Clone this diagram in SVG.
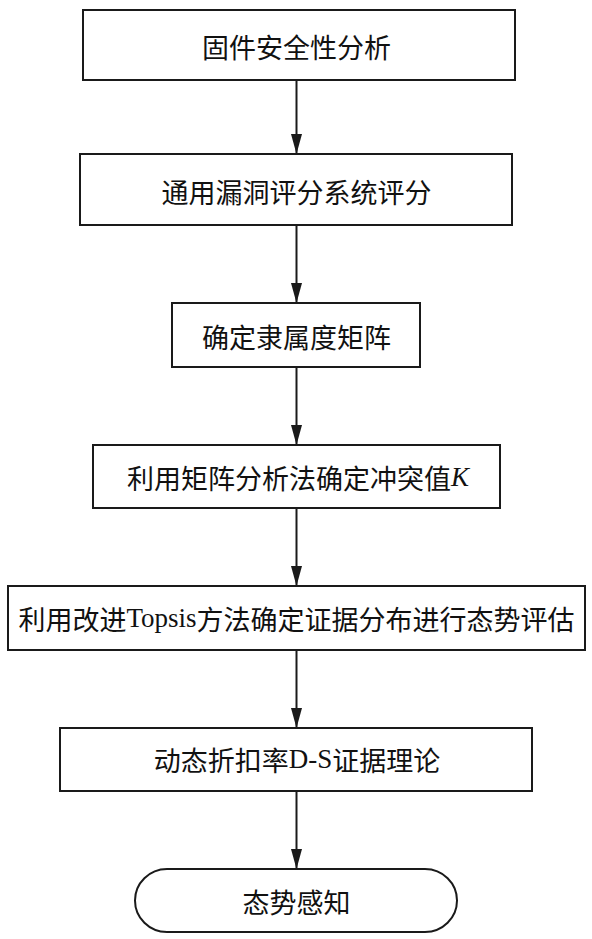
<svg xmlns="http://www.w3.org/2000/svg" width="592" height="939" viewBox="0 0 592 939">
<style>
.box{fill:#fff;stroke:#1a1a1a;stroke-width:2}
.lbl{font-family:"Liberation Serif","Noto Sans CJK SC",serif;font-size:27px;fill:#111;text-anchor:middle;dominant-baseline:central}
.cj{font-family:"Noto Sans CJK SC","Liberation Serif",sans-serif}
.edge{stroke:#1a1a1a;stroke-width:2;fill:none}
</style>
<defs>
<marker id="arr" markerUnits="userSpaceOnUse" markerWidth="20" markerHeight="11" refX="20" refY="5.5" viewBox="0 0 20 11" orient="auto">
<path d="M0,0 L20,5.5 L0,11 Z" fill="#1a1a1a"/>
</marker>
</defs>
<rect width="592" height="939" fill="#fff"/>
<g id="connectors">
<line class="edge" x1="296.5" y1="80" x2="296.5" y2="154" marker-end="url(#arr)"/>
<line class="edge" x1="296.5" y1="225" x2="296.5" y2="303" marker-end="url(#arr)"/>
<line class="edge" x1="296.5" y1="367" x2="296.5" y2="445" marker-end="url(#arr)"/>
<line class="edge" x1="296.5" y1="508" x2="296.5" y2="586" marker-end="url(#arr)"/>
<line class="edge" x1="296.5" y1="650" x2="296.5" y2="728" marker-end="url(#arr)"/>
<line class="edge" x1="296.5" y1="791" x2="296.5" y2="869" marker-end="url(#arr)"/>
</g>
<g id="n1">
<rect class="box" x="83" y="10" width="432" height="70"/>
<text class="lbl cj" x="296.5" y="46">固件安全性分析</text>
</g>
<g id="n2">
<rect class="box" x="80" y="154" width="432" height="71"/>
<text class="lbl cj" x="296.5" y="191">通用漏洞评分系统评分</text>
</g>
<g id="n3">
<rect class="box" x="172" y="303" width="248" height="64"/>
<text class="lbl cj" x="296.5" y="336">确定隶属度矩阵</text>
</g>
<g id="n4">
<rect class="box" x="93" y="445" width="407" height="63"/>
<text class="lbl" x="298" y="477"><tspan class="cj">利用矩阵分析法确定冲突值</tspan><tspan font-style="italic">K</tspan></text>
</g>
<g id="n5">
<rect class="box" x="8" y="586" width="577" height="64"/>
<text class="lbl" x="296.5" y="618"><tspan class="cj">利用改进</tspan>Topsis<tspan class="cj">方法确定证据分布进行态势评估</tspan></text>
</g>
<g id="n6">
<rect class="box" x="60" y="728" width="472" height="63"/>
<text class="lbl" x="297" y="759"><tspan class="cj">动态折扣率</tspan>D-S<tspan class="cj">证据理论</tspan></text>
</g>
<g id="n7">
<rect class="box" x="135" y="869" width="322" height="63" rx="32" ry="32"/>
<text class="lbl cj" x="296.5" y="901">态势感知</text>
</g>
</svg>
